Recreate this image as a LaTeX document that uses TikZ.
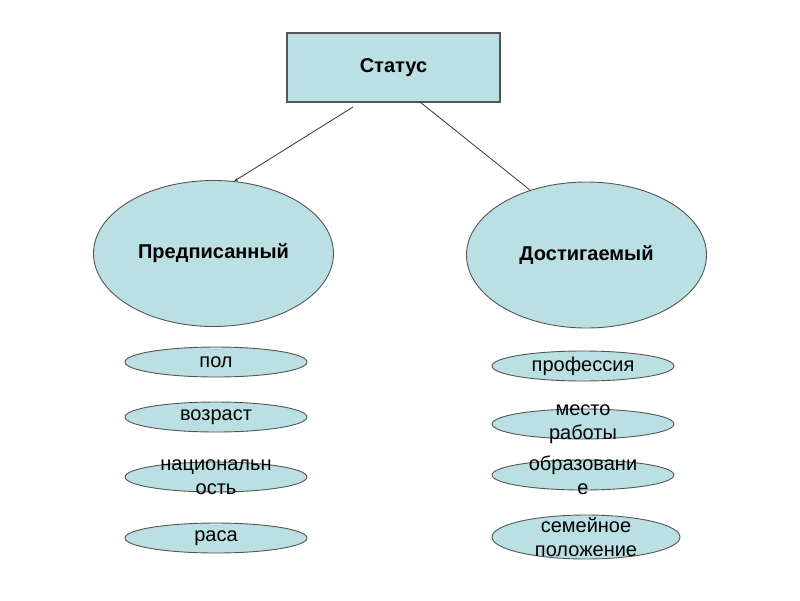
\documentclass[tikz,border=0pt]{standalone}
\usepackage{fontspec}
\setmainfont{Liberation Sans}
\usetikzlibrary{shapes.geometric,arrows.meta}
\definecolor{boxfill}{RGB}{187,224,227}
\definecolor{edge}{RGB}{85,85,85}
\tikzset{
  statusbox/.style={draw=edge, line width=1.2pt, fill=boxfill, minimum width=213pt, minimum height=69pt, inner sep=0pt, font=\fontsize{20}{22}\selectfont\bfseries},
  bigell/.style={ellipse, draw=edge, line width=0.9pt, fill=boxfill, minimum width=240pt, minimum height=146pt, inner sep=0pt, font=\fontsize{20}{22}\selectfont\bfseries},
  smallell/.style={ellipse, draw=edge, line width=0.9pt, fill=boxfill, minimum width=182pt, minimum height=30pt, inner sep=0pt},
  elltext/.style={align=center, inner sep=0pt, font=\fontsize{20}{24}\selectfont},
  conn/.style={draw=black!80, line width=0.8pt}
}
\begin{document}
\begin{tikzpicture}[x=1pt,y=-1pt]
\useasboundingbox (0,0) rectangle (800,600);
\node[statusbox] (status) at (393.5,67.5) {Статус};
\node[bigell] (pre) at (213.5,253.5) {Предписанный};
\node[bigell] (dost) at (586.5,255) {Достигаемый};
\coordinate (s1) at (353,107);
\coordinate (s2) at (420,102);
\draw[conn,-{Stealth[length=4pt,width=3pt]}] (s1) -- (pre.74);
\draw[conn] (s2) -- (dost.131);
\node[smallell, label={[elltext]center:пол}] (pol) at (216,362) {};
\node[smallell, label={[elltext]center:возраст}] (voz) at (216,417) {};
\node[smallell, label={[elltext]center:{национальн\\ость}}] (nat) at (216,477) {};
\node[smallell, label={[elltext]center:раса}] (rasa) at (216,538) {};
\node[smallell, label={[elltext]center:профессия}] (prof) at (583,366) {};
\node[smallell, label={[elltext]center:{место\\работы}}] (mesto) at (583,424) {};
\node[smallell, label={[elltext]center:{образовани\\е}}] (obr) at (583,475) {};
\node[smallell, minimum width=188pt, minimum height=44pt, label={[elltext]center:{семейное\\положение}}] (sem) at (586,537) {};
\end{tikzpicture}
\end{document}
